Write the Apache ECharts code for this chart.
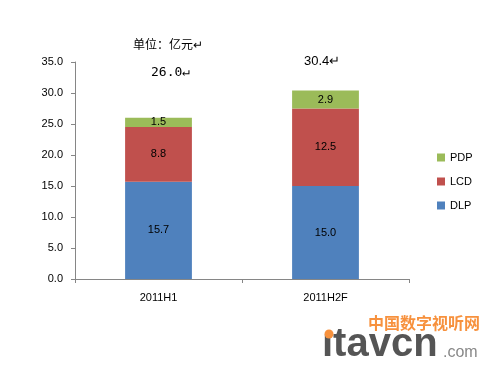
<!DOCTYPE html>
<html><head><meta charset="utf-8">
<script src="https://cdn.jsdelivr.net/npm/echarts@6/dist/echarts.min.js"></script>
<style>html,body{margin:0;padding:0;background:#fff}#c{width:500px;height:375px}</style>
</head><body><div id="c"></div>
<script>
const categories = ['2011H1', '2011H2F'];
const dlp = [15.7, 15.0];
const lcd = [8.8, 12.5];
const pdp = [1.5, 2.9];
const totals = ['26.0↵', '30.4↵'];
const yTicks = [0, 5, 10, 15, 20, 25, 30, 35];

const chart = echarts.init(document.getElementById('c'), null, {renderer: 'canvas'});
const lbl = {show: true, position: 'inside', color: '#000', fontSize: 11, fontFamily: 'Liberation Sans, Arial', formatter: p => p.value.toFixed(1)};
const mk = (name, data, color) => ({name, type: 'bar', stack: 't', data, barWidth: '40%', itemStyle: {color}, label: lbl});
chart.setOption({
  animation: false,
  grid: {left: 75, right: 91, top: 62, bottom: 96},
  legend: {
    orient: 'vertical', left: 432, top: 147, itemWidth: 8, itemHeight: 8, itemGap: 13,
    icon: 'rect', data: ['PDP', 'LCD', 'DLP'],
    textStyle: {fontSize: 11, color: '#000', fontFamily: 'Liberation Sans, Arial'}
  },
  xAxis: {
    type: 'category', data: categories,
    axisLine: {lineStyle: {color: '#868686'}},
    axisTick: {show: true, length: 4, lineStyle: {color: '#868686'}},
    axisLabel: {color: '#000', fontSize: 11, margin: 13, fontFamily: 'Liberation Sans, Arial'}
  },
  yAxis: {
    type: 'value', min: yTicks[0], max: yTicks[yTicks.length - 1], interval: 5,
    axisLine: {show: true, lineStyle: {color: '#868686'}},
    axisTick: {show: true, length: 4, lineStyle: {color: '#868686'}},
    splitLine: {show: false},
    axisLabel: {color: '#000', fontSize: 11, margin: 12, fontFamily: 'Liberation Sans, Arial', formatter: v => v.toFixed(1)}
  },
  series: [
    mk('DLP', dlp, '#4F81BD'),
    mk('LCD', lcd, '#C0504D'),
    mk('PDP', pdp, '#9BBB59')
  ],
  graphic: [
    {type: 'text', left: 133, top: 38, style: {text: '单位：亿元↵', fontSize: 12, fill: '#000', fontFamily: 'Noto Sans CJK SC'}},
    {type: 'text', left: 151, top: 66, style: {text: totals[0], fontSize: 13, fill: '#000', fontFamily: 'DejaVu Sans Mono'}},
    {type: 'text', left: 304, top: 55, style: {text: totals[1], fontSize: 13, fill: '#000', fontFamily: 'Liberation Sans, Arial'}},
    {type: 'text', left: 368, top: 315, style: {text: '中国数字视听网', fontSize: 16, fontWeight: 'bold', fill: '#F7913D', fontFamily: 'Noto Sans CJK SC'}},
    {type: 'text', left: 322, top: 325, style: {text: 'ıtavcn', fontSize: 40, fontWeight: 'bold', fill: '#555', fontFamily: 'Liberation Sans, Arial'}},
    {type: 'text', left: 443, top: 345, style: {text: '.com', fontSize: 16, fill: '#888', fontFamily: 'Liberation Sans, Arial'}},
    {type: 'circle', shape: {cx: 329, cy: 334, r: 4.5}, style: {fill: '#F7913D'}}
  ]
});
</script></body></html>
